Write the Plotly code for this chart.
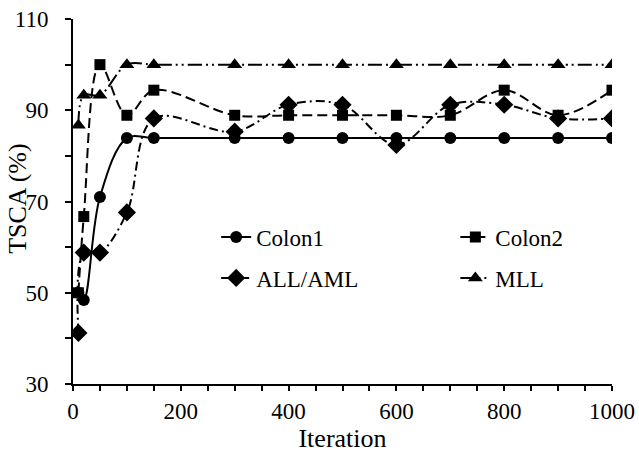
import plotly.graph_objects as go

iterations = [10, 20, 50, 100, 150, 300, 400, 500, 600, 700, 800, 900, 1000]
colon1 = [50.0, 48.4, 71.0, 83.9, 83.9, 83.9, 83.9, 83.9, 83.9, 83.9, 83.9, 83.9, 83.9]
colon2 = [50.0, 66.7, 100.0, 88.9, 94.4, 88.9, 88.9, 88.9, 88.9, 88.9, 94.4, 88.9, 94.4]
allaml = [41.2, 58.8, 58.8, 67.6, 88.2, 85.3, 91.2, 91.2, 82.4, 91.2, 91.2, 88.2, 88.2]
mll = [86.7, 93.3, 93.3, 100.0, 100.0, 100.0, 100.0, 100.0, 100.0, 100.0, 100.0, 100.0, 100.0]

FONT = "Liberation Serif"

series = [
    ("Colon1", colon1, "solid", "circle", 12, "legend"),
    ("Colon2", colon2, "10px,5px", "square", 11, "legend2"),
    ("ALL/AML", allaml, "9px,4px,2px,4px", "diamond", 14, "legend3"),
    ("MLL", mll, "14px,4px,2px,4px,2px,4px", "triangle-up", 13, "legend4"),
]

fig = go.Figure()
for name, vals, dash, sym, size, leg in series:
    fig.add_trace(go.Scatter(
        x=iterations, y=vals, name=name, mode="lines+markers",
        line=dict(color="black", width=2, dash=dash, shape="spline", smoothing=1),
        marker=dict(symbol=sym, size=size, color="black"),
        legend=leg, hoverinfo="skip",
    ))

legend_common = dict(
    orientation="h", xanchor="left", yanchor="middle",
    font=dict(family=FONT, size=23, color="black"),
    bgcolor="rgba(0,0,0,0)", itemwidth=30,
)

fig.update_layout(
    width=639, height=454,
    margin=dict(l=73, r=27, t=19, b=70, autoexpand=False),
    paper_bgcolor="white", plot_bgcolor="white",
    font=dict(family=FONT, size=23, color="black"),
    showlegend=True,
    legend=dict(x=0.2656, y=0.4027, **legend_common),
    legend2=dict(x=0.7094, y=0.4027, **legend_common),
    legend3=dict(x=0.2656, y=0.2904, **legend_common),
    legend4=dict(x=0.7094, y=0.2904, **legend_common),
    xaxis=dict(
        range=[0, 1000], tick0=0, dtick=200, automargin=False,
        ticks="outside", ticklen=5, tickwidth=1.5, tickcolor="black",
        minor=dict(dtick=50, ticks="outside", ticklen=5, tickwidth=1.5, tickcolor="black"),
        showline=True, linecolor="black", linewidth=2,
        showgrid=False, zeroline=False,
        tickfont=dict(family=FONT, size=23, color="black"),
        title=dict(text="Iteration", font=dict(family=FONT, size=26, color="black"), standoff=1),
    ),
    yaxis=dict(
        range=[30, 110], tick0=30, dtick=20, automargin=False,
        ticks="outside", ticklen=6, tickwidth=1.5, tickcolor="black",
        minor=dict(dtick=10, ticks="outside", ticklen=6, tickwidth=1.5, tickcolor="black"),
        showline=True, linecolor="black", linewidth=2,
        showgrid=False, zeroline=False,
        tickfont=dict(family=FONT, size=23, color="black"),
        ticklabelstandoff=12,
    ),
    annotations=[dict(
        text="TSCA (%)", textangle=-90, xref="paper", yref="paper",
        x=-0.1021, y=0.51, xanchor="center", yanchor="middle", showarrow=False,
        font=dict(family=FONT, size=26, color="black"),
    )],
)

fig.write_html(
    "out.html",
    config={"displayModeBar": False},
    post_script="document.body.style.margin='0';document.body.style.overflow='hidden';",
)
